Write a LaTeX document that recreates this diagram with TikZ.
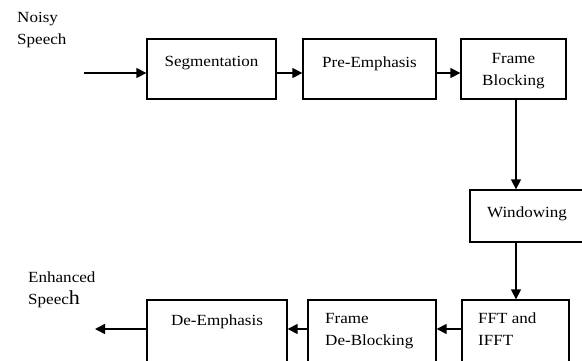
\documentclass[tikz,border=0pt]{standalone}
\usepackage{fontspec}
\setmainfont[FakeStretch=1.1]{Liberation Serif}
\usetikzlibrary{arrows.meta}
\usetikzlibrary{positioning}

\tikzset{
	blk/.style={draw, line width=1.3pt, rectangle, inner sep=0pt},
	txt/.style={inner sep=0pt, font=\fontsize{15.5}{22}\selectfont},
	arr/.style={line width=1.4pt, -{Triangle[length=10pt,width=10pt]}}
}

\begin{document}
\begin{tikzpicture}[x=1pt, y=-1pt]
			\useasboundingbox (0,0) rectangle (582,360);
			\clip (0,0) rectangle (582,360);
		%% top row
			\node[blk, minimum width=129pt, minimum height=60pt] (seg) at (211.5,69) {};
			\node[blk, minimum width=133pt, minimum height=60pt] (pre) at (369.5,69) {};
			\node[blk, minimum width=105pt, minimum height=60pt] (frame) at (513.5,69) {};
			\node[txt, below=18pt of seg.north] (segl) {Segmentation};
			\node[txt, below=18pt of pre.north] (prel) {Pre-Emphasis};
			\node[txt, align=center, below=15pt of frame.north] (framel) {Frame\\Blocking};
		%% right column
			\node[blk, minimum width=114pt, minimum height=52pt] (win) at (527,216) {};
			\node[txt, below=17pt of win.north] (winl) {Windowing};
			\node[blk, minimum width=107pt, minimum height=62pt] (fft) at (515.5,331) {};
			\node[txt, align=left, anchor=north west] (fftl) at (478,313) {FFT and\\IFFT};
		%% bottom row
			\node[blk, minimum width=128pt, minimum height=62pt] (deblk) at (372,331) {};
			\node[txt, align=left, anchor=north west] (deblkl) at (325,313) {Frame\\De-Blocking};
			\node[blk, minimum width=140pt, minimum height=62pt] (deemph) at (217,331) {};
			\node[txt, below=15pt of deemph.north] (deemphl) {De-Emphasis};
		%% in and out
			\node[txt, align=left, anchor=north west] (noisy) at (17,12) {Noisy\\Speech};
			\node[txt, align=left, anchor=north west] (enh) at (28,272) {Enhanced\\Speec{\fontsize{20}{22}\selectfont h}};
			\coordinate (in) at (84,73);
			\coordinate (out) at (95,329);
			\coordinate (down) at ([xshift=2.5pt]frame.south);
		%% connectors
			\draw[arr] (in) -- (seg.west |- in);
			\draw[arr] (seg.east |- in) -- (pre.west |- in);
			\draw[arr] (pre.east |- in) -- (frame.west |- in);
			\draw[arr] (down) -- (down |- win.north);
			\draw[arr] (down |- win.south) -- (down |- fft.north);
			\draw[arr] (fft.west |- out) -- (deblk.east |- out);
			\draw[arr] (deblk.west |- out) -- (deemph.east |- out);
			\draw[arr] (deemph.west |- out) -- (out);
		\end{tikzpicture}
\end{document}
